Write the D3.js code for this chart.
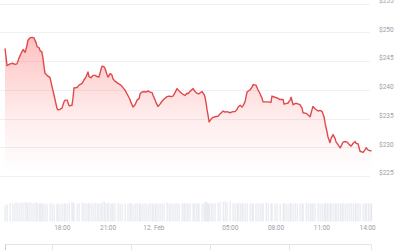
<!DOCTYPE html>
<html><head><meta charset="utf-8">
<script src="https://cdn.jsdelivr.net/npm/d3@7"></script>
<style>html,body{margin:0;padding:0;background:#fff;}svg{display:block;font-family:Roboto,"Liberation Sans",Arial,sans-serif;}</style>
</head><body><svg id="c" width="400" height="250"></svg>
<script>
// minutes after 11 Feb 14:15
const minutes = [
0,8,20,31,39,47,55,63,71,79,
86,90,98,106,114,122,126,134,138,145,
149,157,165,177,185,193,204,208,216,224,
232,236,244,252,263,267,271,283,291,303,
310,318,326,330,338,346,354,362,369,377,
381,389,393,401,405,413,420,424,432,444,
452,460,472,483,491,495,503,511,519,527,
531,538,546,554,562,570,578,582,590,593,
601,609,617,625,637,645,652,660,668,676,
684,696,703,707,715,719,727,739,743,751,
758,762,774,782,786,790,794,798,802,810,
817,825,837,845,857,865,872,884,896,904,
912,916,924,931,935,943,951,963,971,975,
986,994,1002,1010,1014,1026,1034,1045,1049,1061,
1069,1081,1093,1096,1104,1112,1120,1124,1132,1140,
1148,1159,1167,1171,1183,1191,1199,1206,1210,1218,
1230,1238,1246,1254,1258,1265,1269,1277,1281,1289,
1297,1301,1309,1317,1324,1328,1336,1344,1352,1360,
1368,1376,1379,1387,1395,1407,1415,1419,1427,1434,
1440];
const prices = [
247.2,244.2,244.5,244.6,244.4,244.5,245.5,246.3,247,246.5,
247.6,248.6,249,249.1,249,248.2,247.5,247.3,246.8,246.6,
245.5,242.9,242.5,242.1,240.5,239,236.8,236.5,236.6,236.8,
237.9,238.2,238.2,237.2,237.3,238.5,240.3,240.4,240.8,241.1,
241.7,242.2,243.1,242.3,242.1,242.5,242.5,242.3,242.2,243.5,
244.1,244,243.7,242.6,242.2,242.8,242.6,241.9,241.5,241.1,
240.9,240.6,239.9,239,238.3,237.8,237,237.4,238.2,238.5,
239.3,239.6,239.7,239.6,239.8,239.6,239.5,239,238.2,237.8,
237.1,237.5,238,238.4,238.8,238.9,238.8,238.9,239.5,240.2,
239.8,239.3,239.1,239,239.4,239.3,239.7,240.2,239.9,239.5,
239.3,239.3,239.7,239.2,238.7,237.7,236.5,235.5,234.4,234.9,
235.2,235.3,235.4,235.8,236.3,236.1,236.2,236,236.2,236.2,
236.6,237,237.3,237,237.2,237.9,239.6,240,240.5,240.9,
240.8,240,239.3,238.5,237.9,237.9,237.9,237.8,238.9,238.7,
238.6,238.3,238.3,237.5,237.6,237.7,238.2,238.7,237.4,237.6,
237.6,237.4,236.8,236,235.9,235.6,235.3,236.5,237.1,236.7,
236.3,236.4,236.2,235.2,234.1,232.7,231.8,230.8,231.5,232.2,
231.5,230.9,230.4,229.9,230.5,230.9,231,230.9,230.5,230.2,
230.7,231,230.7,230.6,229.3,229.1,229.6,229.9,229.5,229.4,
229.4];
const volumes = [
78,84,90,86,92,95,88,93,90,96,
92,89,95,91,88,94,90,86,92,89,
85,88,84,90,87,83,86,89,84,88,
86,90,85,92,98,88,91,87,89,93,
88,90,86,91,89,85,92,90,87,89,
91,100,90,87,93,89,86,90,88,92,
87,85,89,86,90,88,84,87,91,86,
88,85,89,87,84,90,86,88,85,89,
87,90,86,88,92,87,89,85,88,90,
86,89,87,91,88,86,90,87,89,88,
85,89,87,90,94,99,92,88,86,90,
87,89,92,95,97,100,93,98,90,88,
86,92,89,85,91,88,90,86,89,87,
88,90,86,89,87,91,88,86,90,87,
89,86,88,90,87,85,89,88,86,90,
87,89,86,88,91,87,90,86,89,88,
90,87,89,86,92,88,90,87,91,88,
89,86,90,88,87,91,86,89,88,90,
87,89,86,90,88,85,89,87,90,86,
88];
const yTicks = [225,230,235,240,245,250,255];
const xTickTimes = ["02-11 18:00","02-11 21:00","02-12 00:00","02-12 05:00","02-12 08:00","02-12 11:00","02-12 14:00"];
const xTickLabels = ["18:00","21:00","12. Feb","05:00","08:00","11:00","14:00"];
const navTickDays = ["02-08","02-09","02-10","02-11"];

const parse = d3.timeParse("%m-%d %H:%M");
const start = parse("02-11 14:15");
const data = minutes.map((m,i)=>({t:new Date(+start + m*60000), p:prices[i], v:volumes[i]}));

const svg = d3.select("#c");
const x = d3.scaleTime().domain([start, parse("02-12 14:15")]).range([5, 371.5]);
const y = d3.scaleLinear().domain([225,255]).range([176, 3.5]);
const yv = d3.scaleLinear().domain([0,100]).range([221.5, 201]);

// gradient
const defs = svg.append("defs");
const g = defs.append("linearGradient").attr("id","fillg").attr("gradientUnits","userSpaceOnUse")
  .attr("x1",0).attr("x2",0).attr("y1",y(249)).attr("y2",y(225.5));
g.append("stop").attr("offset",0).attr("stop-color","#ff5a5a").attr("stop-opacity",0.38);
g.append("stop").attr("offset",0.55).attr("stop-color","#ff6a6a").attr("stop-opacity",0.14);
g.append("stop").attr("offset",1).attr("stop-color","#ff7a7a").attr("stop-opacity",0);

// gridlines
svg.append("g").selectAll("line").data(yTicks).join("line")
  .attr("x1",0).attr("x2",370).attr("y1",d=>Math.round(y(d))+0.5).attr("y2",d=>Math.round(y(d))+0.5)
  .attr("stroke","#eef0f3").attr("stroke-width",1);

// y labels
svg.append("g").selectAll("text").data(yTicks).join("text")
  .attr("x",379).attr("y",d=>y(d)-0.6).attr("font-size","6.5px").attr("fill","#9a9ea6")
  .text(d=>"$"+d);

// area + line
svg.append("path").datum(data).attr("fill","url(#fillg)")
  .attr("d", d3.area().x(d=>x(d.t)).y0(y(225)).y1(d=>y(d.p)));
svg.append("path").datum(data).attr("fill","none").attr("stroke","#e0494b").attr("stroke-width",1.4)
  .attr("stroke-linejoin","round")
  .attr("d", d3.line().x(d=>x(d.t)).y(d=>y(d.p)));

// volume bars
svg.append("g").selectAll("rect").data(data).join("rect")
  .attr("x",d=>x(d.t)-0.5).attr("width",1.1)
  .attr("y",d=>yv(d.v)).attr("height",d=>yv(0)-yv(d.v))
  .attr("fill","#e3e7ed");

// x labels
svg.append("g").selectAll("text").data(xTickTimes).join("text")
  .attr("x",d=>x(parse(d))).attr("y",230).attr("text-anchor","middle")
  .attr("font-size","6.5px").attr("fill","#9a9ea6")
  .text((d,i)=>xTickLabels[i]);

// navigator
const dayParse = d3.timeParse("%m-%d");
const xn = d3.scaleTime().domain([parse("02-07 09:49"), parse("02-12 01:00")]).range([5, 371]);
const nav = svg.append("g");
nav.append("line").attr("x1",5).attr("x2",371).attr("y1",244.5).attr("y2",244.5).attr("stroke","#e3e5e8");
nav.selectAll("line.t").data(navTickDays).join("line").attr("class","t")
  .attr("x1",d=>Math.round(xn(dayParse(d)))+0.5).attr("x2",d=>Math.round(xn(dayParse(d)))+0.5)
  .attr("y1",244.5).attr("y2",250).attr("stroke","#e3e5e8");
nav.append("line").attr("x1",5.5).attr("x2",5.5).attr("y1",244.5).attr("y2",250).attr("stroke","#c8ccd2");
nav.append("line").attr("x1",371.5).attr("x2",371.5).attr("y1",244.5).attr("y2",250).attr("stroke","#e3e5e8");
</script></body></html>
